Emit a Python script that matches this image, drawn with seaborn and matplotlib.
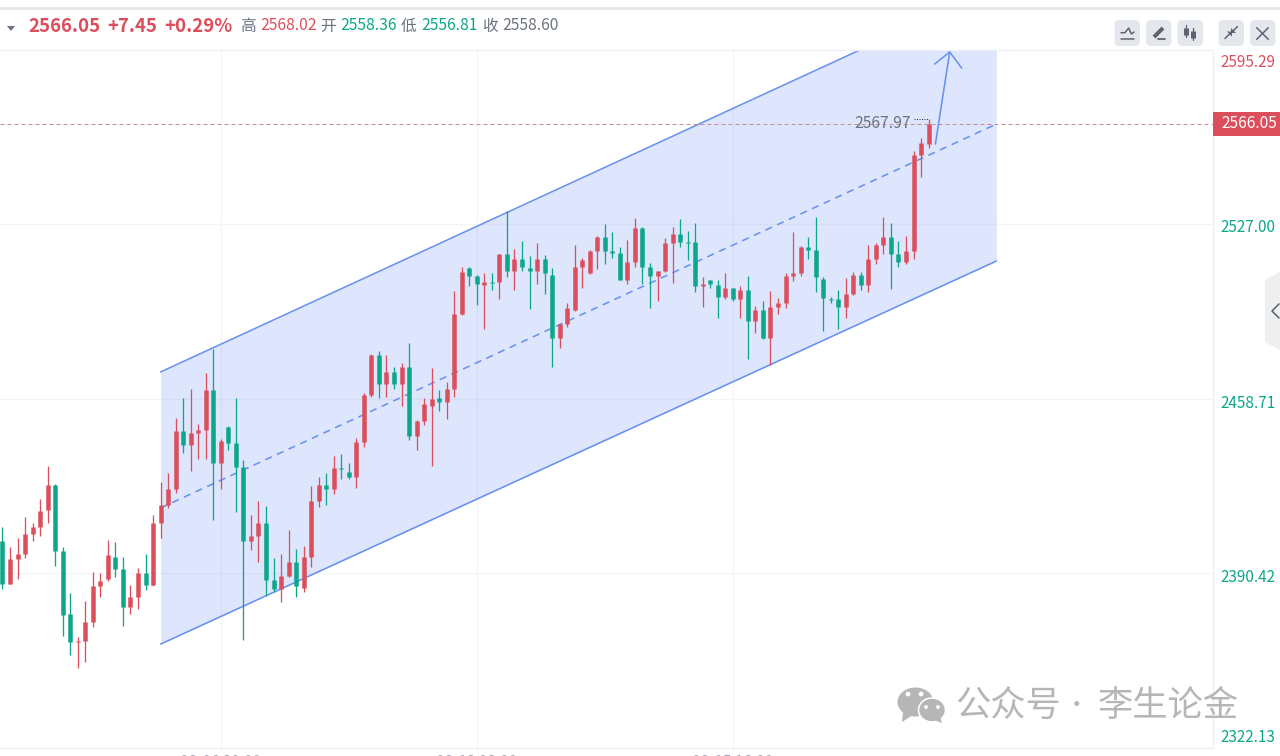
import matplotlib
matplotlib.use("Agg")
import matplotlib.pyplot as plt
import matplotlib.transforms as mtrans
from matplotlib.patches import FancyBboxPatch, Polygon, Ellipse, Rectangle
import pandas as pd
import seaborn as sns

# -------------------------
# Data
# -------------------------
opens = [
    2402.9, 2386.1, 2395.9, 2397.9, 2405.5, 2408.5, 2415.1, 2424.9, 2399.0, 2374.4,
    2363.4, 2363.8, 2371.4, 2385.2, 2388.1, 2396.8, 2391.9, 2377.1, 2381.0, 2390.3,
    2385.7, 2410.0, 2417.0, 2423.3, 2446.1, 2440.5, 2445.2, 2446.3, 2462.0, 2433.5,
    2447.7, 2441.2, 2431.9, 2402.9, 2404.9, 2410.0, 2387.7, 2384.0, 2389.2, 2394.7,
    2384.6, 2396.8, 2418.6, 2424.9, 2423.3, 2431.5, 2430.0, 2428.0, 2441.7, 2460.0,
    2475.7, 2464.4, 2469.1, 2464.4, 2471.0, 2444.0, 2449.8, 2455.8, 2458.9, 2457.3,
    2462.4, 2491.8, 2509.8, 2506.6, 2503.1, 2504.2, 2504.2, 2515.3, 2508.6, 2513.3,
    2509.8, 2508.6, 2513.3, 2507.0, 2482.4, 2487.9, 2493.3, 2510.2, 2507.8, 2516.4,
    2521.9, 2516.4, 2515.6, 2505.1, 2512.1, 2525.4, 2510.2, 2506.6, 2508.5, 2519.4,
    2523.0, 2519.8, 2520.0, 2502.7, 2505.1, 2503.1, 2498.4, 2502.0, 2497.7, 2501.2,
    2488.9, 2493.3, 2482.4, 2494.5, 2496.1, 2506.6, 2507.7, 2517.9, 2516.8, 2505.6,
    2497.7, 2497.7, 2494.5, 2499.6, 2507.0, 2503.1, 2513.3, 2518.8, 2521.9, 2515.3,
    2512.1, 2516.4, 2554.0, 2558.36,
]
highs = [
    2408.6, 2400.5, 2404.1, 2412.2, 2410.0, 2419.2, 2432.4, 2425.1, 2400.5, 2382.6,
    2365.4, 2379.5, 2390.7, 2390.3, 2403.3, 2402.6, 2396.8, 2385.7, 2392.2, 2397.9,
    2413.1, 2425.9, 2429.4, 2451.2, 2458.9, 2462.4, 2448.7, 2468.6, 2478.1, 2442.7,
    2447.9, 2458.9, 2434.5, 2413.1, 2418.6, 2416.6, 2396.3, 2397.9, 2407.1, 2399.8,
    2401.0, 2424.5, 2428.0, 2429.6, 2436.1, 2437.0, 2433.5, 2443.1, 2460.9, 2476.1,
    2477.3, 2475.7, 2471.0, 2472.6, 2480.3, 2450.2, 2458.9, 2470.6, 2462.0, 2465.0,
    2500.7, 2510.2, 2510.3, 2507.2, 2507.7, 2507.7, 2515.4, 2532.1, 2517.2, 2520.3,
    2514.3, 2519.4, 2514.7, 2509.8, 2488.0, 2496.1, 2518.8, 2513.7, 2516.8, 2522.3,
    2527.0, 2523.9, 2517.9, 2520.7, 2529.5, 2526.0, 2511.7, 2508.7, 2521.5, 2526.0,
    2529.0, 2524.4, 2527.4, 2506.3, 2505.2, 2505.1, 2507.8, 2502.1, 2502.7, 2506.6,
    2494.9, 2497.0, 2500.6, 2498.0, 2507.8, 2523.9, 2518.4, 2521.9, 2529.6, 2506.3,
    2498.4, 2501.2, 2505.7, 2508.2, 2508.2, 2518.8, 2519.4, 2529.6, 2527.4, 2520.3,
    2522.3, 2555.4, 2560.7, 2568.02,
]
lows = [
    2384.3, 2386.1, 2388.2, 2396.3, 2403.1, 2405.0, 2410.0, 2393.3, 2365.8, 2358.3,
    2353.2, 2355.6, 2369.3, 2381.0, 2387.3, 2388.9, 2369.8, 2374.4, 2376.5, 2383.8,
    2385.3, 2404.0, 2415.7, 2421.7, 2437.4, 2430.3, 2435.0, 2435.0, 2411.2, 2423.3,
    2438.6, 2414.2, 2364.2, 2399.4, 2394.7, 2381.4, 2383.0, 2379.1, 2388.9, 2381.0,
    2383.0, 2392.8, 2416.2, 2417.0, 2421.3, 2427.2, 2427.2, 2423.7, 2439.6, 2459.3,
    2458.9, 2459.3, 2462.4, 2455.8, 2442.5, 2438.6, 2448.2, 2432.4, 2453.8, 2450.7,
    2459.3, 2491.5, 2502.6, 2495.3, 2485.9, 2501.2, 2497.5, 2506.3, 2501.2, 2508.6,
    2493.9, 2503.5, 2499.6, 2471.0, 2478.6, 2486.7, 2493.1, 2502.0, 2507.6, 2509.3,
    2511.3, 2513.7, 2504.9, 2503.5, 2510.2, 2503.5, 2494.0, 2496.9, 2508.2, 2504.0,
    2517.9, 2512.8, 2500.4, 2494.5, 2502.0, 2490.2, 2497.5, 2496.9, 2490.2, 2474.2,
    2484.3, 2482.1, 2471.8, 2491.8, 2494.0, 2504.7, 2506.6, 2513.3, 2500.4, 2485.3,
    2496.1, 2485.9, 2490.2, 2499.4, 2501.2, 2500.4, 2511.3, 2515.3, 2501.6, 2510.2,
    2511.3, 2513.3, 2545.3, 2556.81,
]
closes = [
    2386.1, 2395.9, 2397.9, 2405.5, 2408.5, 2414.7, 2424.9, 2399.0, 2374.0, 2363.4,
    2363.8, 2371.4, 2385.2, 2387.3, 2397.5, 2391.9, 2377.1, 2381.0, 2390.3, 2385.7,
    2410.0, 2417.0, 2423.3, 2446.1, 2440.5, 2445.2, 2446.3, 2462.0, 2433.5, 2442.1,
    2441.2, 2431.9, 2402.9, 2404.9, 2410.0, 2387.7, 2384.0, 2389.2, 2394.7, 2385.3,
    2396.8, 2418.6, 2424.9, 2423.3, 2431.5, 2431.0, 2428.0, 2441.7, 2460.0, 2475.7,
    2464.4, 2469.1, 2464.4, 2471.0, 2444.0, 2449.9, 2456.4, 2458.5, 2457.3, 2462.4,
    2491.8, 2508.2, 2506.6, 2503.5, 2504.3, 2503.8, 2515.3, 2508.6, 2513.3, 2510.2,
    2508.6, 2513.3, 2507.8, 2482.4, 2487.9, 2494.0, 2510.2, 2512.9, 2516.4, 2521.9,
    2516.4, 2515.8, 2505.1, 2512.1, 2525.4, 2510.2, 2506.6, 2508.6, 2519.4, 2523.0,
    2519.8, 2519.4, 2502.7, 2503.5, 2503.5, 2498.4, 2502.0, 2497.7, 2501.2, 2488.9,
    2493.3, 2482.4, 2494.5, 2496.1, 2506.6, 2507.7, 2518.0, 2516.8, 2506.3, 2498.0,
    2497.2, 2494.5, 2499.6, 2507.0, 2503.1, 2513.3, 2518.8, 2521.9, 2515.3, 2512.1,
    2516.4, 2554.0, 2558.6, 2566.05,
]

y_ticks = [2595.29, 2527.00, 2458.71, 2390.42, 2322.13]
y_labels = ["2595.29", "2527.00", "2458.71", "2390.42", "2322.13"]
x_ticks = [29, 63, 97]
x_labels = ["08-06 20:00", "08-12 08:00", "08-15 16:00"]
last_price = 2566.05

# channel anchors (candle number, price)
chan_x = [21, 132]
chan_upper = [2469.1, 2619.7]
chan_mid = [2415.9, 2566.1]
chan_lower = [2362.6, 2512.5]

arrow_x = [123.9, 125.8]
arrow_y = [2558.3, 2594.3]
head_x = [123.8, 125.8, 127.4]
head_y = [2589.6, 2594.3, 2588.0]

RED = "#da4f5b"
GREEN = "#0ca68a"
GRAY = "#6b7280"
BLUE = "#6a92ee"
PX = 72 / 100  # one pixel in points at dpi 100

sns.set_theme(style="white")
plt.rcParams["font.family"] = ["Noto Sans CJK SC", "DejaVu Sans"]

fig = plt.figure(figsize=(12.8, 7.56), dpi=100)
ax = fig.add_axes([0, 8.5 / 756, 1213 / 1280, 698 / 756])

# -------------------------
# Channel
# -------------------------
ax.fill_between(chan_x, chan_lower, chan_upper, color="#5b84f5", alpha=0.2, lw=0, zorder=1)
chan = pd.DataFrame({"x": chan_x, "upper": chan_upper, "mid": chan_mid, "lower": chan_lower})
sns.lineplot(data=chan, x="x", y="upper", color=BLUE, lw=1.6 * PX, ax=ax, zorder=2)
sns.lineplot(data=chan, x="x", y="lower", color=BLUE, lw=1.6 * PX, ax=ax, zorder=2)
sns.lineplot(data=chan, x="x", y="mid", color=BLUE, lw=1.6 * PX, ax=ax, zorder=2,
             linestyle=(0, (4.5, 3.5)))

# -------------------------
# Candles
# -------------------------
candles = pd.DataFrame({"n": range(len(opens)), "open": opens, "high": highs,
                        "low": lows, "close": closes})
candles["dir"] = ["up" if c >= o else "down" for o, c in zip(opens, closes)]
palette = {"up": RED, "down": GREEN}

wicks = candles.melt(id_vars=["n", "dir"], value_vars=["low", "high"], value_name="price")
bodies = candles.melt(id_vars=["n", "dir"], value_vars=["open", "close"], value_name="price")
sns.lineplot(data=wicks, x="n", y="price", units="n", hue="dir", palette=palette, estimator=None,
             sort=False, lw=1.3 * PX, legend=False, ax=ax, zorder=3, solid_capstyle="butt")
sns.lineplot(data=bodies, x="n", y="price", units="n", hue="dir", palette=palette, estimator=None,
             sort=False, lw=4.5 * PX, legend=False, ax=ax, zorder=4, solid_capstyle="butt")

# -------------------------
# Arrow and annotation
# -------------------------
arrow = pd.DataFrame({"x": arrow_x, "y": arrow_y})
head = pd.DataFrame({"x": head_x, "y": head_y})
sns.lineplot(data=arrow, x="x", y="y", color=BLUE, lw=1.6 * PX, ax=ax, sort=False, zorder=5)
sns.lineplot(data=head, x="x", y="y", color=BLUE, lw=1.6 * PX, ax=ax, sort=False, zorder=5)

ax.axhline(last_price, color="#c98a92", lw=1 * PX, ls=(0, (4, 3)), zorder=2)
ax.plot([121.0, 123], [2568.0, 2568.0], color="#333333", lw=1 * PX, ls=(0, (1, 1.5)), zorder=5)
ax.text(120.7, 2566.4, "2567.97", ha="right", va="center", fontsize=11.3, color=GRAY, zorder=6)

# -------------------------
# Axes
# -------------------------
ax.set_xlim(-0.33, 160.77)
ax.set_ylim(y_ticks[-1], y_ticks[0])
ax.set(xlabel=None, ylabel=None)
ax.yaxis.tick_right()
ax.set_yticks(y_ticks, labels=y_labels)
ax.set_xticks(x_ticks, labels=x_labels)
ax.grid(True, color="#f3f4f6", lw=1.2 * PX, zorder=0)
ax.set_axisbelow(True)
ax.tick_params(axis="y", length=0, pad=5.4, labelsize=11, labelcolor=GREEN)
ax.tick_params(axis="x", length=0, pad=5, labelsize=11, labelcolor="#a0a4b0")
for spine in ax.spines.values():
    spine.set_color("#eef0f3")
    spine.set_linewidth(1.3 * PX)
ax.spines["left"].set_visible(False)

# tick labels sit a little off their grid lines
y_shift = [11, 2, 3, 3, -11.5]
for lbl, dy in zip(ax.get_yticklabels(), y_shift):
    lbl.set_transform(lbl.get_transform() + mtrans.ScaledTranslation(0, -dy / 100, fig.dpi_scale_trans))
ax.get_yticklabels()[0].set_color(RED)

# -------------------------
# Chrome drawn in pixel coordinates
# -------------------------
ui = fig.add_axes([0, 0, 1, 1], facecolor="none")
ui.set_xlim(0, 1280)
ui.set_ylim(756, 0)
ui.axis("off")

ui.add_patch(Rectangle((0, 7), 1280, 2.6, color="#e5e7eb", lw=0))
ui.add_patch(Polygon([(7, 26), (15, 26), (11, 31)], color=GRAY, lw=0))

head_items = [
    (28, "2566.05", 13.4, RED), (107, "+7.45", 13.4, RED), (164, "+0.29%", 13.4, RED),
    (240, "高", 11.3, GRAY), (260, "2568.02", 11.3, RED),
    (320, "开", 11.3, GRAY), (340, "2558.36", 11.3, GREEN),
    (401, "低", 11.3, GRAY), (421, "2556.81", 11.3, GREEN),
    (482, "收", 11.3, GRAY), (502, "2558.60", 11.3, GRAY),
]
for x, s, size, col in head_items:
    ui.text(x, 26, s, fontsize=size, color=col, va="center", ha="left",
            fontweight="bold" if size > 12 else "normal")

# last price tag
ui.add_patch(Rectangle((1213, 112), 67, 24, color=RED, lw=0))
ui.text(1249, 124, "2566.05", color="white", fontsize=11.2, ha="center", va="center")

# tool buttons
for x0 in [1114.5, 1146, 1177.5, 1218.5, 1250]:
    ui.add_patch(FancyBboxPatch((x0 + 3, 23), 19.5, 20, boxstyle="round,pad=3,rounding_size=5",
                                fc="#e4e7ec", ec="none"))
ICON = "#5d6370"
ui.plot([1121, 1134], [38.5, 38.5], color=ICON, lw=1.5 * PX)
ui.plot([1121, 1125, 1128.7, 1131.3, 1134], [32.7, 32.7, 28, 34, 32], color=ICON, lw=1.5 * PX)
ui.plot([1154, 1163], [37, 28], color=ICON, lw=4 * PX, solid_capstyle="butt")
ui.plot([1158, 1165], [38.7, 38.7], color=ICON, lw=1.8 * PX)
ui.plot([1186, 1186], [25, 37], color=ICON, lw=1.3 * PX)
ui.plot([1186, 1186], [28, 35], color=ICON, lw=5 * PX, solid_capstyle="butt")
ui.plot([1193.3, 1193.3], [28, 40], color=ICON, lw=1.3 * PX)
ui.plot([1193.3, 1193.3], [30.7, 38.3], color=ICON, lw=5 * PX, solid_capstyle="butt")
ui.plot([1225, 1229.5], [38.5, 34], color=ICON, lw=1.5 * PX)
ui.add_patch(Polygon([(1227, 31.5), (1232, 36.5), (1232, 31.5)], color=ICON, lw=0))
ui.plot([1237.5, 1233.5], [26.5, 30.5], color=ICON, lw=1.5 * PX)
ui.add_patch(Polygon([(1231, 28), (1236, 33), (1231, 33)], color=ICON, lw=0))
ui.plot([1256.7, 1268.3], [27.7, 39.3], color=ICON, lw=1.5 * PX)
ui.plot([1256.7, 1268.3], [39.3, 27.7], color=ICON, lw=1.5 * PX)

# collapse tab on the right edge
ui.add_patch(Polygon([(1265, 280), (1280, 272), (1280, 350), (1265, 342)], color="#eeeff1", lw=0))
ui.plot([1279, 1272, 1279], [304, 311, 318], color=ICON, lw=1.6 * PX)

# watermark
MARK = "#b6b6b6"
ui.add_patch(Ellipse((915.5, 702), 36, 29, color=MARK, lw=0))
ui.add_patch(Polygon([(903, 712), (902, 722), (913, 715)], color=MARK, lw=0))
ui.add_patch(Ellipse((932, 710), 27, 24, fc=MARK, ec="white", lw=1.6 * PX))
ui.add_patch(Polygon([(934, 720), (942, 723), (940, 716)], color=MARK, lw=0))
for ex, ey, er in [(908, 694, 2.4), (921, 694, 2.4), (926, 707, 1.9), (938, 707, 1.9)]:
    ui.add_patch(Ellipse((ex, ey), 2 * er, 2 * er, color="white", lw=0))
ui.text(955, 706, "公众号", fontsize=25.4, color=MARK, va="center", ha="left")
ui.text(1076, 706, "·", fontsize=17, color=MARK, va="center", ha="center")
ui.text(1098, 706, "李生论金", fontsize=25.4, color=MARK, va="center", ha="left")

fig.savefig("out.png", dpi=100)
